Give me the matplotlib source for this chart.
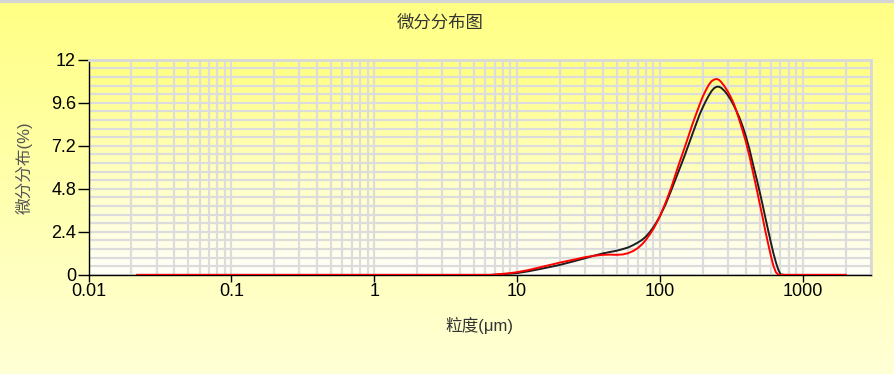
import numpy as np
import matplotlib
matplotlib.use("Agg")
import matplotlib.pyplot as plt
from matplotlib.ticker import FixedLocator, MultipleLocator, NullFormatter

plt.rcParams['font.family'] = ['Liberation Sans', 'Noto Sans CJK SC', 'DejaVu Sans']

# particle sizes (um) and differential distribution (%)
sizes = [0.022, 0.05, 0.1, 0.5, 1, 2, 4, 6, 6.5, 7, 8, 9, 10, 12, 15, 18, 20, 25, 30,
         35, 40, 45, 50, 55, 60, 65, 70, 75, 80, 85, 90, 95, 100, 110, 120, 135, 150,
         170, 190, 200, 210, 220, 230, 240, 250, 260, 270, 285, 300, 315, 330, 345,
         360, 380, 400, 425, 450, 475, 500, 525, 550, 575, 600, 625, 650, 675, 700,
         750, 1000, 2000]
black_vals = [0, 0, 0, 0, 0, 0, 0, 0, 0, 0.01, 0.04, 0.07, 0.1, 0.2, 0.35, 0.48, 0.56,
              0.76, 0.93, 1.08, 1.2, 1.28, 1.35, 1.44, 1.53, 1.66, 1.8, 1.95, 2.14, 2.38,
              2.65, 2.95, 3.26, 3.95, 4.7, 5.75, 6.7, 7.9, 8.95, 9.35, 9.7, 10.0, 10.25,
              10.42, 10.5, 10.5, 10.43, 10.25, 10.02, 9.75, 9.45, 9.12, 8.8, 8.3, 7.75,
              7.0, 6.15, 5.4, 4.65, 3.9, 3.15, 2.45, 1.8, 1.2, 0.7, 0.3, 0.03, 0, 0, 0]
red_vals = [0, 0, 0, 0, 0, 0, 0, 0, 0, 0.02, 0.06, 0.1, 0.15, 0.27, 0.45, 0.6, 0.69,
            0.85, 0.99, 1.07, 1.12, 1.13, 1.12, 1.14, 1.21, 1.33, 1.49, 1.7, 1.96, 2.25,
            2.55, 2.9, 3.26, 4.05, 4.85, 6.1, 7.15, 8.45, 9.5, 9.95, 10.3, 10.6, 10.8,
            10.9, 10.93, 10.88, 10.75, 10.5, 10.22, 9.9, 9.55, 9.12, 8.65, 8.05, 7.45,
            6.6, 5.7, 4.85, 4.0, 3.2, 2.4, 1.7, 1.05, 0.5, 0.15, 0.01, 0, 0, 0, 0]

x_ticks = [0.01, 0.1, 1, 10, 100, 1000]
x_labels = ['0.01', '0.1', '1', '10', '100', '1000']
y_ticks = [0, 2.4, 4.8, 7.2, 9.6, 12]
y_labels = ['0', '2.4', '4.8', '7.2', '9.6', '12']

fig = plt.figure(figsize=(8.94, 3.74), dpi=100)

# figure background gradient
bg = fig.add_axes([0, 0, 1, 1])
grad = np.linspace(0, 1, 256).reshape(-1, 1)
top = np.array([1.0, 1.0, 0.52])
bot = np.array([1.0, 1.0, 0.84])
bg.imshow(top + (bot - top) * grad[:, :, None], aspect='auto', extent=(0, 1, 0, 1))
bg.axhline(0.997, color='#d4d4d4', lw=3)
bg.set_xlim(0, 1)
bg.set_ylim(0, 1)
bg.axis('off')

pos = [0.099, 0.265, 0.875, 0.575]

# plot area gradient
pa = fig.add_axes(pos)
ptop = np.array([1.0, 1.0, 0.5])
pbot = np.array([1.0, 1.0, 0.98])
pa.imshow(ptop + (pbot - ptop) * grad[:, :, None], aspect='auto', extent=(0, 1, 0, 1))
pa.axis('off')

ax = fig.add_axes(pos)
ax.patch.set_alpha(0)
ax.set_xscale('log')
ax.plot(sizes, black_vals, color='#1e1e1e', lw=1.4, zorder=3)
ax.plot(sizes, red_vals, color='#ff0000', lw=1.4, zorder=4)
ax.set_xlim(0.01, 3000)
ax.set_ylim(0, 12)

ax.xaxis.set_major_locator(FixedLocator(x_ticks))
ax.set_xticklabels(x_labels)
minors = [m * 10.0 ** e for e in range(-2, 4) for m in range(2, 10)]
ax.xaxis.set_minor_locator(FixedLocator(minors))
ax.xaxis.set_minor_formatter(NullFormatter())
ax.set_yticks(y_ticks)
ax.set_yticklabels(y_labels)
ax.yaxis.set_minor_locator(MultipleLocator(0.48))

ax.grid(True, which='both', color='#dcdcdc', lw=1.6)
ax.set_axisbelow(True)
ax.tick_params(axis='both', which='minor', length=0)
ax.tick_params(axis='y', which='major', length=8, width=1, labelsize=13, pad=1)
ax.tick_params(axis='x', which='major', length=5, width=1, labelsize=13, pad=1)

for s in ['top', 'right']:
    ax.spines[s].set_color('#d8d8d8')
    ax.spines[s].set_linewidth(2)
for s in ['left', 'bottom']:
    ax.spines[s].set_color('black')
    ax.spines[s].set_linewidth(1)

fig.text(0.492, 0.94, '微分分布图', ha='center', va='center', fontsize=12.5, color='#333333')
ax.set_xlabel('粒度(μm)', fontsize=12, color='#333333', labelpad=12)
ax.set_ylabel('微分分布(%)', fontsize=12, color='#555555', labelpad=13)

fig.savefig('out.png', dpi=100)
